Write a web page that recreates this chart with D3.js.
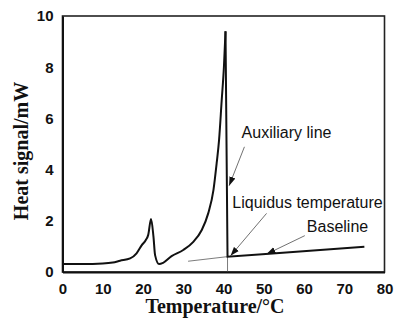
<!DOCTYPE html>
<html>
<head>
<meta charset="utf-8">
<script src="https://cdn.jsdelivr.net/npm/d3@7"></script>
<style>
    body { margin: 0; background: #fff; }
    .tick text { font-family: "Liberation Sans", Arial, sans-serif; font-weight: bold; font-size: 15px; fill: #111; }
    .title { font-family: "Liberation Serif", "Times New Roman", serif; font-weight: bold; font-size: 20px; fill: #111; }
    .note { font-family: "Liberation Sans", Arial, sans-serif; font-size: 16px; fill: #111; }
</style>
</head>
<body>
<div id="chart"></div>
<script>
// DSC trace, temperature (°C) vs heat signal (mW)
var curveT = [0, 5, 10, 12.5, 14.3, 16.8, 18.4, 19.7, 20.7, 21.3, 22.0, 22.6, 23.0, 24.0, 25.0, 27.1, 30.0, 32.5, 34.6, 36.2, 37.5, 38.3, 38.9, 39.55, 40.1, 40.5];
var curveQ = [0.31, 0.31, 0.33, 0.37, 0.44, 0.53, 0.73, 1.05, 1.25, 1.45, 2.07, 1.38, 0.66, 0.31, 0.36, 0.62, 0.86, 1.18, 1.64, 2.29, 3.2, 4.25, 5.16, 6.7, 8.0, 9.4];

// steep fall after the peak, then the baseline
var tailT = [40.5, 41.0, 50.5, 75];
var tailQ = [9.4, 0.6, 0.7, 0.99];

// thin construction lines
var baseExtT = [31.2, 41.0];
var baseExtQ = [0.42, 0.6];
var vertT = [41.0, 41.0];
var vertQ = [0.6, 0];

var xTicks = [0, 10, 20, 30, 40, 50, 60, 70, 80];
var yTicks = [0, 2, 4, 6, 8, 10];

// annotations: label, text anchor, arrow start, arrow end (data units)
var notes = [
    { label: 'Auxiliary line', tx: 44.5, ty: 5.25, x1: 45.2, y1: 4.89, x2: 41.4, y2: 3.37 },
    { label: 'Liquidus temperature', tx: 42.2, ty: 2.5, x1: 50.7, y1: 2.29, x2: 41.75, y2: 0.63 },
    { label: 'Baseline', tx: 60.7, ty: 1.57, x1: 60.2, y1: 1.42, x2: 50.7, y2: 0.70 }
];

const W = 395, H = 321;
const margin = { left: 62.5, right: 10.5, top: 16, bottom: 49 };
const width = W - margin.left - margin.right,
    height = H - margin.top - margin.bottom;

const svg = d3.select('#chart').append('svg')
    .attr('width', W)
    .attr('height', H);

svg.append('defs').append('marker')
    .attr('id', 'head')
    .attr('viewBox', '0 0 10 10')
    .attr('refX', 10).attr('refY', 5)
    .attr('markerWidth', 9).attr('markerHeight', 9)
    .attr('markerUnits', 'userSpaceOnUse')
    .attr('orient', 'auto')
    .append('path')
    .attr('d', 'M0,1.5 L10,5 L0,8.5 Z')
    .attr('fill', '#111');

const chart = svg.append('g')
    .attr('transform', `translate(${margin.left},${margin.top})`);

const x = d3.scaleLinear().domain([0, 80]).range([0, width]);
const y = d3.scaleLinear().domain([0, 10]).range([height, 0]);

// frame
chart.append('rect')
    .attr('x', 0).attr('y', 0)
    .attr('width', width).attr('height', height)
    .attr('fill', 'none')
    .attr('stroke', '#222')
    .attr('stroke-width', 1.6);

const xAxis = chart.append('g')
    .attr('transform', `translate(0,${height})`)
    .call(d3.axisBottom(x).tickValues(xTicks).tickSize(0).tickPadding(11));
xAxis.select('.domain').attr('stroke', '#111').attr('stroke-width', 2);

const yAxis = chart.append('g')
    .call(d3.axisLeft(y).tickValues(yTicks).tickSize(0).tickPadding(9));
yAxis.select('.domain').attr('stroke', '#111').attr('stroke-width', 2);

// axis titles
svg.append('text')
    .attr('class', 'title')
    .attr('x', 215)
    .attr('y', 313)
    .attr('text-anchor', 'middle')
    .text('Temperature/°C');

svg.append('text')
    .attr('class', 'title')
    .attr('transform', 'translate(28,151) rotate(-90)')
    .attr('text-anchor', 'middle')
    .text('Heat signal/mW');

// thin construction lines
const thin = d3.line()
    .x(function (d) { return x(d[0]) })
    .y(function (d) { return y(d[1]) });

chart.append('path')
    .datum(d3.zip(baseExtT, baseExtQ))
    .attr('d', thin)
    .attr('fill', 'none')
    .attr('stroke', '#444')
    .attr('stroke-width', 0.7);

chart.append('path')
    .datum(d3.zip(vertT, vertQ))
    .attr('d', thin)
    .attr('fill', 'none')
    .attr('stroke', '#444')
    .attr('stroke-width', 0.7);

// main trace
const smooth = d3.line()
    .x(function (d) { return x(d[0]) })
    .y(function (d) { return y(d[1]) })
    .curve(d3.curveMonotoneX);

chart.append('path')
    .datum(d3.zip(curveT, curveQ))
    .attr('d', smooth)
    .attr('fill', 'none')
    .attr('stroke', '#111')
    .attr('stroke-width', 2)
    .attr('stroke-linejoin', 'round');

chart.append('path')
    .datum(d3.zip(tailT, tailQ))
    .attr('d', thin)
    .attr('fill', 'none')
    .attr('stroke', '#111')
    .attr('stroke-width', 2)
    .attr('stroke-linejoin', 'miter');

// annotations
chart.selectAll('.arrow')
    .data(notes)
    .enter().append('line')
    .attr('class', 'arrow')
    .attr('x1', d => x(d.x1)).attr('y1', d => y(d.y1))
    .attr('x2', d => x(d.x2)).attr('y2', d => y(d.y2))
    .attr('stroke', '#333')
    .attr('stroke-width', 0.7)
    .attr('marker-end', 'url(#head)');

chart.selectAll('.note')
    .data(notes)
    .enter().append('text')
    .attr('class', 'note')
    .attr('x', d => x(d.tx))
    .attr('y', d => y(d.ty))
    .text(d => d.label);
</script>
</body>
</html>
